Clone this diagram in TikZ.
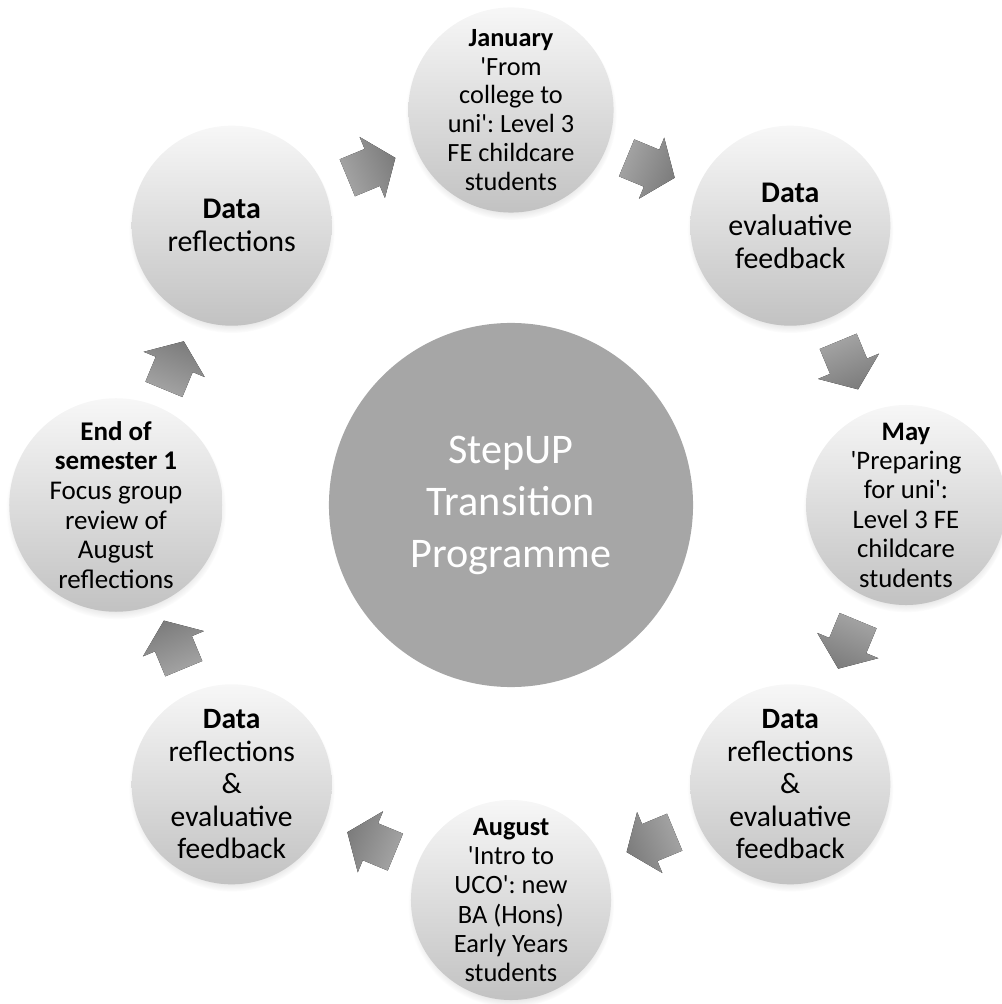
\documentclass[tikz,border=0pt]{standalone}
\usepackage{fontspec}
\setmainfont{Carlito}
\usetikzlibrary{calc,shadows,fadings}

\definecolor{stagetop}{HTML}{F7F7F7}
\definecolor{stagebottom}{HTML}{C2C2C2}
\definecolor{hubgray}{HTML}{A6A6A6}
\definecolor{arrowlight}{HTML}{A6A6A6}
\definecolor{arrowdark}{HTML}{7C7C7C}

\newcommand{\stagefont}[1]{\fontsize{#1}{\fpeval{1.1*#1}}\selectfont}
\newcommand{\apos}{\textquotesingle}

\tikzset{
  stage/.style={circle, minimum size=5cm, inner sep=0pt, align=center,
    top color=stagetop, bottom color=stagebottom,
    circular drop shadow={shadow xshift=0pt, shadow yshift=-3pt, shadow scale=1.03, opacity=.35}},
  hub/.style={circle, minimum size=9.1cm, inner sep=0pt, align=center,
    fill=hubgray, text=white, font=\fontsize{30}{37}\selectfont},
  cyclearrow/.style={top color=arrowlight, bottom color=arrowdark}
}

\begin{document}
\frenchspacing
\begin{tikzpicture}[x=0.025cm, y=0.025cm]
    \useasboundingbox (-511,-499) rectangle (490,505);
    \node [hub] (hub) at (0,0) {StepUP\\Transition\\Programme};
    % the eight stages, clockwise from the top
    \node [stage, font=\stagefont{18.7}] (jan) at (90:395)
        {\textbf{January}\\\apos From\\college to\\uni\apos: Level 3\\FE childcare\\students};
    \node [stage, font=\stagefont{21.3}] (evalfb) at (45:395)
        {\textbf{Data}\\evaluative\\feedback};
    \node [stage, font=\stagefont{19}] (may) at (0:395)
        {\textbf{May}\\\apos Preparing\\for uni\apos:\\Level 3 FE\\childcare\\students};
    \node [stage, font=\stagefont{21}] (reflevalA) at (-45:395)
        {\textbf{Data}\\reflections\\\&\\evaluative\\feedback};
    \node [stage, font=\stagefont{18.8}] (aug) at (-90:395)
        {\textbf{August}\\\apos Intro to\\UCO\apos: new\\BA (Hons)\\Early Years\\students};
    \node [stage, font=\stagefont{21}] (reflevalB) at (-135:395)
        {\textbf{Data}\\reflections\\\&\\evaluative\\feedback};
    \node [stage, font=\stagefont{19.2}] (endsem) at (180:395)
        {\textbf{End of}\\\textbf{semester 1}\\Focus group\\review of\\August\\reflections};
    \node [stage, font=\stagefont{21.3}] (refl) at (135:395)
        {\textbf{Data}\\reflections};
    % block arrows half way between neighbours
    \foreach \from/\to/\a in {refl/jan/112.5, jan/evalfb/67.5, evalfb/may/22.5,
        may/reflevalA/-22.5, reflevalA/aug/-67.5, aug/reflevalB/-112.5,
        reflevalB/endsem/-157.5, endsem/refl/-202.5}
        \fill [cyclearrow, shading angle=\a, shift={($(\from)!.5!(\to)$)}, rotate=\a-90]
            (-26,-20) -- (1,-20) -- (1,-33) -- (26,0) -- (1,33) -- (1,20) -- (-26,20) -- cycle;
\end{tikzpicture}
\end{document}
